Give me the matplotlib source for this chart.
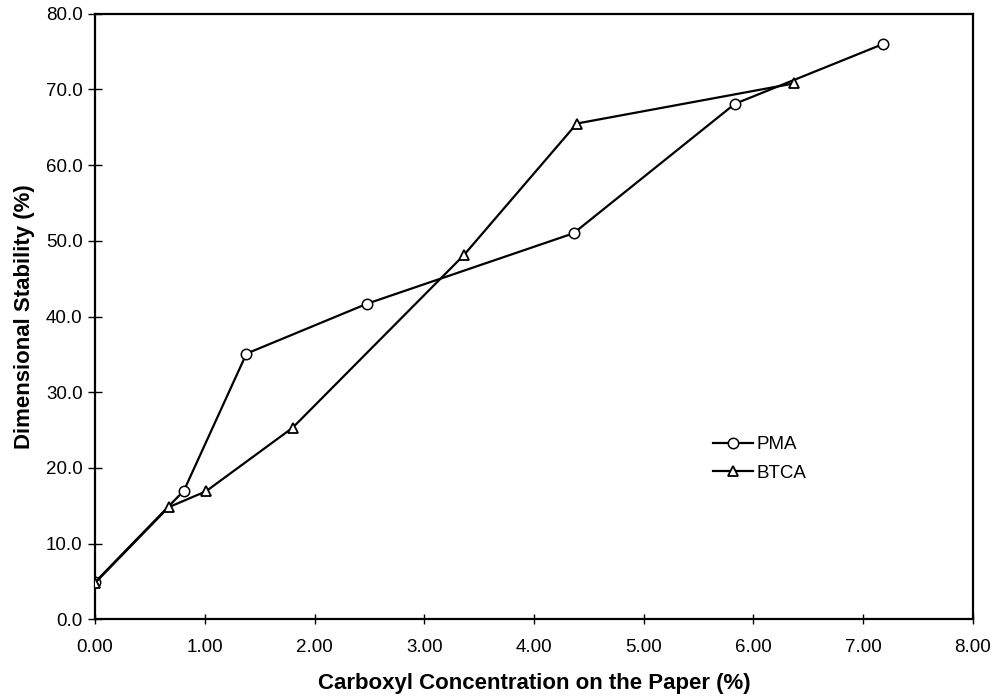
import matplotlib
matplotlib.use("Agg")
import matplotlib.pyplot as plt
from matplotlib.ticker import FormatStrFormatter

plt.rcParams['font.family'] = ['Liberation Sans', 'DejaVu Sans']

# values
pma_x = [0.00, 0.81, 1.38, 2.48, 4.36, 5.83, 7.18]
pma_y = [4.9, 17.0, 35.1, 41.7, 51.0, 68.1, 76.0]

btca_x = [0.00, 0.67, 1.01, 1.80, 3.36, 4.39, 6.37]
btca_y = [4.8, 14.8, 16.9, 25.3, 48.1, 65.5, 70.8]

x_ticks = [0, 1, 2, 3, 4, 5, 6, 7, 8]
y_ticks = [0, 10, 20, 30, 40, 50, 60, 70, 80]

fig = plt.figure(figsize=(9.96, 7.0), dpi=100)
ax = fig.add_axes([0.0954, 0.1153, 0.8815, 0.865])

ax.plot(pma_x, pma_y, color='black', lw=1.6, marker='o', ms=7.5,
        mfc='white', mec='black', mew=1.1, label='PMA', zorder=3)
ax.plot(btca_x, btca_y, color='black', lw=1.6, marker='^', ms=7.5,
        mfc='white', mec='black', mew=1.3, label='BTCA', zorder=3)

ax.set_xlim(0, 8)
ax.set_ylim(0, 80)
ax.set_xticks(x_ticks)
ax.set_yticks(y_ticks)
ax.xaxis.set_major_formatter(FormatStrFormatter('%.2f'))
ax.yaxis.set_major_formatter(FormatStrFormatter('%.1f'))
ax.tick_params(axis='y', direction='inout', length=10, width=1, labelsize=13.5, pad=4)
ax.tick_params(axis='x', direction='inout', length=7, width=1, labelsize=13.5, pad=11)

for s in ax.spines.values():
    s.set_linewidth(1.6)

ax.set_xlabel('Carboxyl Concentration on the Paper (%)', fontsize=16,
              fontweight='bold', labelpad=12)
ax.set_ylabel('Dimensional Stability (%)', fontsize=16,
              fontweight='bold', labelpad=8)

ax.legend(loc='upper left', bbox_to_anchor=(0.685, 0.33), frameon=False,
          fontsize=13.5, handlelength=2.1, handletextpad=0.2, labelspacing=0.6)

fig.savefig('out.png', dpi=100)
